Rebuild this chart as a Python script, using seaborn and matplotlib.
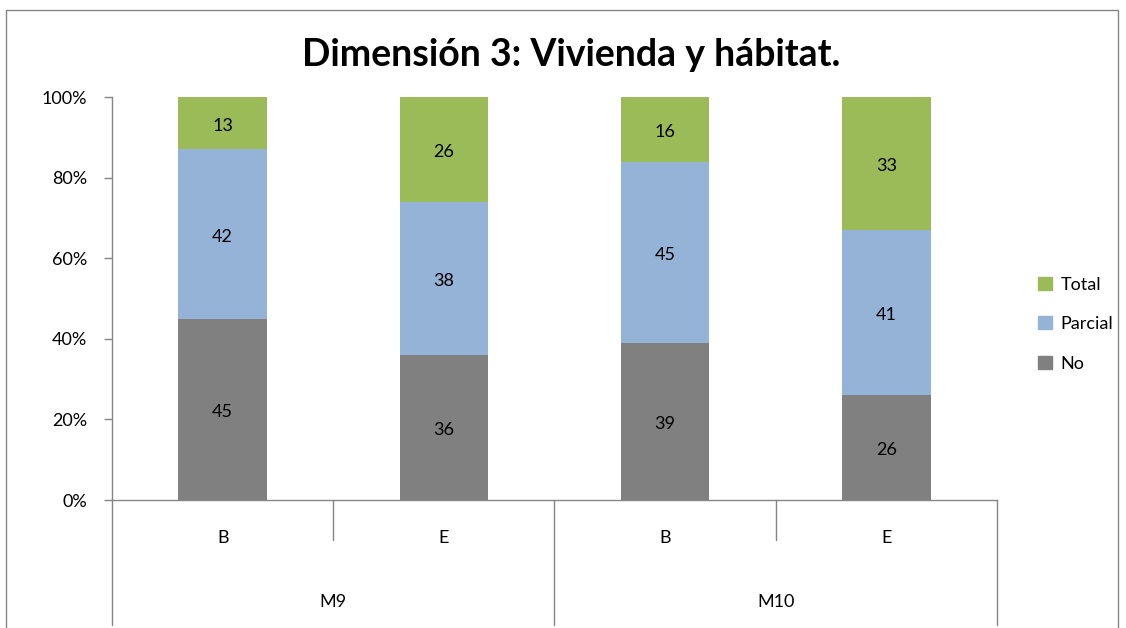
import matplotlib.pyplot as plt
import matplotlib.patches as mpatches
import matplotlib.transforms as mtransforms
import seaborn as sns
import numpy as np
import pandas as pd

# data
groups = ["M9", "M9", "M10", "M10"]
moments = ["B", "E", "B", "E"]
no_vals = [45, 36, 39, 26]
parcial_vals = [42, 38, 45, 41]
total_vals = [13, 26, 16, 33]
series_names = ["No", "Parcial", "Total"]
colors = {"No": "#808080", "Parcial": "#95B3D7", "Total": "#9BBB59"}
title = "Dimensión 3: Vivienda y hábitat."

sns.set_style("white")
plt.rcParams["font.family"] = ["Lato", "DejaVu Sans"]
plt.rcParams["text.color"] = "black"
plt.rcParams["ytick.labelcolor"] = "black"

keys = [f"{g}-{m}" for g, m in zip(groups, moments)]
df = pd.DataFrame({"key": keys, "No": no_vals, "Parcial": parcial_vals, "Total": total_vals})
df["c_no"] = df["No"]
df["c_parcial"] = df["No"] + df["Parcial"]
df["c_total"] = df["c_parcial"] + df["Total"]

fig = plt.figure(figsize=(11.26, 6.28), dpi=100)
ax = fig.add_axes([0.0995, 0.2038, 0.7859, 0.6417])

# stacked bars drawn as cumulative layers, tallest first
for col, name in [("c_total", "Total"), ("c_parcial", "Parcial"), ("c_no", "No")]:
    sns.barplot(data=df, x="key", y=col, color=colors[name], saturation=1,
                width=0.4, ax=ax, order=keys, errorbar=None, linewidth=0)

# labels in the middle of each segment
for i in range(len(keys)):
    bottom = 0
    for name in series_names:
        v = df[name].iloc[i]
        ax.text(i, bottom + v / 2 - 0.7, f"{v}", ha="center", va="center",
                fontsize=13, color="black")
        bottom += v

ax.set_xlim(-0.5, len(keys) - 0.5)
ax.set_ylim(0, 100)
ax.set_yticks(np.arange(0, 101, 20))
ax.set_yticklabels([f"{t}%" for t in range(0, 101, 20)], fontsize=13)
ax.set_xticks([])
ax.set_xlabel("")
ax.set_ylabel("")
ax.tick_params(axis="y", length=6, width=1, color="#868686", left=True, pad=12)
for s in ["top", "right"]:
    ax.spines[s].set_visible(False)
for s in ["left", "bottom"]:
    ax.spines[s].set_color("#868686")
    ax.spines[s].set_linewidth(1)

# multi level category axis
trans = mtransforms.blended_transform_factory(ax.transData, ax.transAxes)
line_kw = dict(color="#868686", lw=1, transform=trans, clip_on=False)
for x in [-0.5, 1.5, 3.5]:
    ax.plot([x, x], [0, -0.31], **line_kw)
for x in [0.5, 2.5]:
    ax.plot([x, x], [0, -0.099], **line_kw)
for i, m in enumerate(moments):
    ax.text(i, -0.094, m, ha="center", va="center", fontsize=13, transform=trans)
for g in ["M9", "M10"]:
    xs = [i for i, gg in enumerate(groups) if gg == g]
    ax.text(np.mean(xs), -0.253, g, ha="center", va="center", fontsize=13, transform=trans)

fig.text(0.507, 0.913, title, ha="center", va="center", fontsize=27, fontweight="bold",
         color="black")

handles = [mpatches.Patch(color=colors[n], label=n) for n in ["Total", "Parcial", "No"]]
fig.legend(handles=handles, loc="center left", bbox_to_anchor=(0.914, 0.484),
           frameon=False, fontsize=13, handlelength=0.75, handleheight=0.75,
           handletextpad=0.5, labelspacing=1.3, borderpad=0)

# chart area border
fig.patches.append(mpatches.Rectangle((6 / 1126, -0.05), (1118 - 6) / 1126, 1.05 - 10 / 628,
                                      transform=fig.transFigure, fill=False,
                                      edgecolor="#868686", lw=1))

fig.savefig("out.png", dpi=100)
